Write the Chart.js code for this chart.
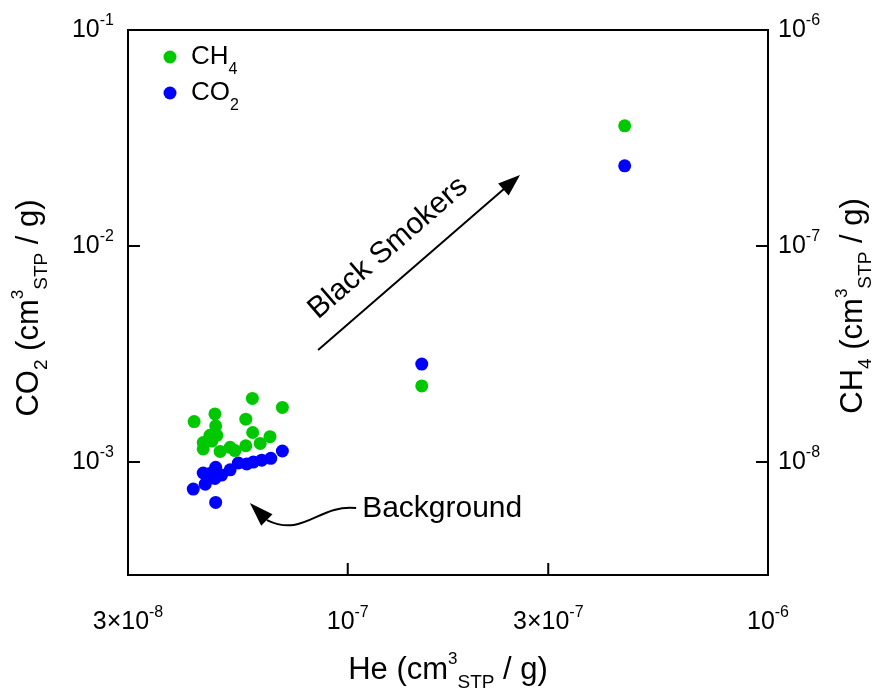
<!DOCTYPE html>
<html>
<head>
<meta charset="UTF-8">
<title>He vs CO2 / CH4</title>
<script src="https://cdn.jsdelivr.net/npm/chart.js"></script>
<style>
  body { margin: 0; background: #fff; }
</style>
</head>
<body>
<canvas id="chart" width="881" height="695"></canvas>
<script>
// He concentrations (cm3 STP / g) and gas values
const heCH4 = [4.31e-8, 4.83e-8, 5.93e-8, 6.99e-8, 5.72e-8, 4.85e-8, 4.70e-8, 4.88e-8, 5.94e-8, 6.53e-8,
               4.53e-8, 4.53e-8, 4.97e-8, 5.25e-8, 5.39e-8, 5.72e-8, 6.19e-8, 4.75e-8, 1.50e-7, 4.56e-7];
const ch4   = [1.54e-8, 1.67e-8, 1.97e-8, 1.79e-8, 1.58e-8, 1.47e-8, 1.33e-8, 1.33e-8, 1.37e-8, 1.31e-8,
               1.23e-8, 1.15e-8, 1.12e-8, 1.17e-8, 1.13e-8, 1.19e-8, 1.22e-8, 1.25e-8, 2.25e-8, 3.60e-7];

const heCO2 = [6.99e-8, 6.56e-8, 6.24e-8, 5.96e-8, 5.75e-8, 5.49e-8, 5.25e-8, 5.01e-8, 4.85e-8, 4.83e-8,
               4.53e-8, 4.58e-8, 4.29e-8, 4.85e-8, 4.70e-8, 1.50e-7, 4.56e-7];
const co2   = [1.125e-3, 1.04e-3, 1.02e-3, 1.00e-3, 9.8e-4, 9.9e-4, 9.2e-4, 8.7e-4, 9.45e-4, 8.4e-4,
               8.9e-4, 7.9e-4, 7.5e-4, 6.5e-4, 8.85e-4, 2.84e-3, 2.35e-2];

// axis ticks
const xTicks = [3e-8, 1e-7, 3e-7, 1e-6];
const xTickLabels = [['3×10', '-8'], ['10', '-7'], ['3×10', '-7'], ['10', '-6']];
const yTicks = [1e-1, 1e-2, 1e-3];
const yTickLabels = [['10', '-1'], ['10', '-2'], ['10', '-3']];
const y2Ticks = [1e-6, 1e-7, 1e-8];
const y2TickLabels = [['10', '-6'], ['10', '-7'], ['10', '-8']];

const GREEN = 'rgb(0,200,0)';
const BLUE = 'rgb(0,0,255)';
const FONT = '"Liberation Sans", Arial, sans-serif';

function pts(xs, ys) {
  return xs.map((x, i) => ({ x: x, y: ys[i] }));
}

// text made of pieces: [text, size, dy]
function richWidth(ctx, parts) {
  let w = 0;
  parts.forEach(p => { ctx.font = p[1] + 'px ' + FONT; w += ctx.measureText(p[0]).width; });
  return w;
}
function drawRich(ctx, parts, x, y, align) {
  const w = richWidth(ctx, parts);
  let cx = x;
  if (align === 'center') cx = x - w / 2;
  if (align === 'right') cx = x - w;
  ctx.textBaseline = 'middle';
  ctx.textAlign = 'left';
  parts.forEach(p => {
    ctx.font = p[1] + 'px ' + FONT;
    ctx.fillText(p[0], cx, y + p[2]);
    cx += ctx.measureText(p[0]).width;
  });
}
function tickParts(lbl) {
  return [[lbl[0], 25, 0], [lbl[1], 16, -9]];
}
function unitParts(name, sub) {
  const parts = [[name, 31, 0]];
  if (sub) parts.push([sub, 19, 13]);
  parts.push([' (cm', 31, 0], ['3', 17, -11]);
  parts.push(['STP', 19, 13], [' / g)', 31, 0]);
  return parts;
}

function arrowHead(ctx, x, y, ang, len, wid) {
  ctx.beginPath();
  ctx.moveTo(x, y);
  ctx.lineTo(x - len * Math.cos(ang) + wid * Math.sin(ang), y - len * Math.sin(ang) - wid * Math.cos(ang));
  ctx.lineTo(x - len * Math.cos(ang) - wid * Math.sin(ang), y - len * Math.sin(ang) + wid * Math.cos(ang));
  ctx.closePath();
  ctx.fill();
}

const decorations = {
  id: 'decorations',
  afterDraw(chart) {
    const ctx = chart.ctx;
    const a = chart.chartArea;
    const sx = chart.scales.x, sy = chart.scales.y, sy2 = chart.scales.y2;
    ctx.save();
    ctx.strokeStyle = '#000';
    ctx.fillStyle = '#000';
    ctx.lineWidth = 2;
    ctx.strokeRect(a.left, a.top, a.right - a.left, a.bottom - a.top);

    // ticks (inward)
    ctx.beginPath();
    xTicks.forEach(v => {
      const px = sx.getPixelForValue(v);
      ctx.moveTo(px, a.bottom); ctx.lineTo(px, a.bottom - 12);
    });
    yTicks.forEach(v => {
      const py = sy.getPixelForValue(v);
      ctx.moveTo(a.left, py); ctx.lineTo(a.left + 12, py);
    });
    y2Ticks.forEach(v => {
      const py = sy2.getPixelForValue(v);
      ctx.moveTo(a.right, py); ctx.lineTo(a.right - 12, py);
    });
    ctx.stroke();

    // tick labels
    xTicks.forEach((v, i) => drawRich(ctx, tickParts(xTickLabels[i]), sx.getPixelForValue(v), a.bottom + 47, 'center'));
    yTicks.forEach((v, i) => drawRich(ctx, tickParts(yTickLabels[i]), a.left - 14, sy.getPixelForValue(v), 'right'));
    y2Ticks.forEach((v, i) => drawRich(ctx, tickParts(y2TickLabels[i]), a.right + 10, sy2.getPixelForValue(v), 'left'));

    // axis titles
    drawRich(ctx, unitParts('He', ''), (a.left + a.right) / 2, a.bottom + 95, 'center');
    ctx.save();
    ctx.translate(29, 308);
    ctx.rotate(-Math.PI / 2);
    drawRich(ctx, unitParts('CO', '2'), 0, 0, 'center');
    ctx.restore();
    ctx.save();
    ctx.translate(853, 306);
    ctx.rotate(-Math.PI / 2);
    drawRich(ctx, unitParts('CH', '4'), 0, 0, 'center');
    ctx.restore();

    // legend
    const lx = a.left + 42;
    [[GREEN, 'CH', '4', a.top + 27], [BLUE, 'CO', '2', a.top + 63]].forEach(l => {
      ctx.fillStyle = l[0];
      ctx.beginPath(); ctx.arc(lx, l[3], 6.5, 0, Math.PI * 2); ctx.fill();
      ctx.fillStyle = '#000';
      drawRich(ctx, [[l[1], 26, 0], [l[2], 16, 13]], lx + 21, l[3], 'left');
    });

    // Black Smokers arrow
    const x0 = sx.getPixelForValue(8.5e-8), y0 = sy.getPixelForValue(3.3e-3);
    const x1 = sx.getPixelForValue(2.57e-7), y1 = sy.getPixelForValue(2.13e-2);
    const ang = Math.atan2(y1 - y0, x1 - x0);
    ctx.beginPath();
    ctx.moveTo(x0, y0);
    ctx.lineTo(x1 - 16 * Math.cos(ang), y1 - 16 * Math.sin(ang));
    ctx.stroke();
    arrowHead(ctx, x1, y1, ang, 22, 8);
    ctx.save();
    ctx.translate(x0 + 70, y0 - 102);
    ctx.rotate(ang);
    ctx.font = '30px ' + FONT;
    ctx.textAlign = 'center';
    ctx.textBaseline = 'middle';
    ctx.fillText('Black Smokers', 0, 0);
    ctx.restore();

    // Background curved arrow
    const bx = sx.getPixelForValue(1.047e-7), by = sy.getPixelForValue(6.12e-4);
    const tx = sx.getPixelForValue(5.85e-8), ty = sy.getPixelForValue(6.46e-4);
    ctx.beginPath();
    ctx.moveTo(bx, by);
    ctx.bezierCurveTo(bx - 38, by - 4, bx - 52, by + 30, tx + 17, ty + 17);
    ctx.stroke();
    arrowHead(ctx, tx, ty, Math.atan2(-17, -17), 24, 8);
    ctx.font = '30px ' + FONT;
    ctx.textAlign = 'left';
    ctx.textBaseline = 'middle';
    ctx.fillText('Background', bx + 6, by + 1);

    ctx.restore();
  }
};

new Chart(document.getElementById('chart'), {
  type: 'scatter',
  data: {
    datasets: [
      { label: 'CH4', data: pts(heCH4, ch4), yAxisID: 'y2', backgroundColor: GREEN, borderWidth: 0, pointRadius: 6.5 },
      { label: 'CO2', data: pts(heCO2, co2), yAxisID: 'y', backgroundColor: BLUE, borderWidth: 0, pointRadius: 6.5 }
    ]
  },
  options: {
    responsive: false,
    animation: false,
    layout: { padding: { top: 30, left: 0, right: 0, bottom: 0 } },
    plugins: { legend: { display: false }, tooltip: { enabled: false } },
    scales: {
      x: {
        type: 'logarithmic', min: 3e-8, max: 1e-6,
        grid: { display: false }, border: { display: false }, ticks: { display: false },
        afterFit(s) { s.height = 120; }
      },
      y: {
        type: 'logarithmic', position: 'left', min: 3e-4, max: 1e-1,
        grid: { display: false }, border: { display: false }, ticks: { display: false },
        afterFit(s) { s.width = 128; }
      },
      y2: {
        type: 'logarithmic', position: 'right', min: 3e-9, max: 1e-6,
        grid: { display: false }, border: { display: false }, ticks: { display: false },
        afterFit(s) { s.width = 113; }
      }
    }
  },
  plugins: [decorations]
});
</script>
</body>
</html>
